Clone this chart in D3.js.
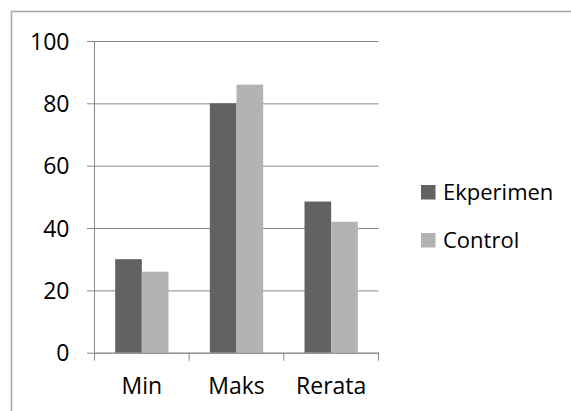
<!DOCTYPE html>
<html><head><meta charset="utf-8">
<script src="https://cdn.jsdelivr.net/npm/d3@7"></script>
<style>
html,body{margin:0;padding:0;background:#fff;}
svg{display:block;}
text{font-family:"Open Sans",sans-serif;fill:#000;}
</style></head>
<body>
<svg id="c" width="571" height="411"></svg>
<script>
const categories = ["Min", "Maks", "Rerata"];
const seriesNames = ["Ekperimen", "Control"];
const ekperimen = [30, 80, 48.5];
const control = [26, 86, 42];
const yTicks = [0, 20, 40, 60, 80, 100];
const colors = ["#626262", "#b3b3b3"];

(function () {
const seriesValues = [ekperimen, control];
const svg = d3.select("#c");

// outer border
svg.append("rect").attr("x", 11.5).attr("y", 11.5).attr("width", 580).attr("height", 420)
  .attr("fill", "none").attr("stroke", "#ababab").attr("stroke-width", 1.6);

const pl = 94.5, pr = 378.5, pt = 41, pb = 352.7;
const y = d3.scaleLinear().domain([0, 100]).range([pb, pt]);
const x0 = d3.scaleBand().domain(categories).range([pl, pr]).padding(0);
const x1 = d3.scaleBand().domain(seriesNames).range([0, x0.bandwidth()]).paddingInner(0).paddingOuter(0.775);

// gridlines + y axis ticks
const yAxis = d3.axisLeft(y).tickValues(yTicks).tickSize(-(pr - pl)).tickSizeOuter(0).tickPadding(0).tickFormat(d3.format("d"));
const gy = svg.append("g").attr("transform", `translate(${pl},0)`).call(yAxis);
gy.select(".domain").remove();
gy.selectAll(".tick line").attr("stroke", "#888").attr("stroke-width", 1).attr("x1", -7.5);
gy.selectAll(".tick text").attr("x", -25).attr("dy", "0.36em").style("font-size", "23px").attr("fill", "#000");

// bars
const groups = svg.append("g").selectAll("g").data(categories).join("g")
  .attr("transform", d => `translate(${x0(d)},0)`);
groups.selectAll("rect").data((c, i) => seriesNames.map((s, j) => ({s, v: seriesValues[j][i], j})))
  .join("rect")
  .attr("x", d => x1(d.s)).attr("width", x1.bandwidth())
  .attr("y", d => y(d.v)).attr("height", d => y(0) - y(d.v))
  .attr("fill", d => colors[d.j]);

// x axis
const xAxis = d3.axisBottom(x0).tickSize(0).tickPadding(0);
const gx = svg.append("g").attr("transform", `translate(0,${pb})`).call(xAxis);
gx.select(".domain").attr("stroke", "#888").attr("stroke-width", 1);
gx.selectAll(".tick text").attr("y", 41.8).attr("dy", 0).style("font-size", "23px").attr("fill", "#000");
// category boundary ticks
const bounds = categories.map(c => x0(c)).concat([pr]);
svg.append("g").selectAll("line").data(bounds).join("line")
  .attr("x1", d => d).attr("x2", d => d).attr("y1", pb).attr("y2", pb + 8)
  .attr("stroke", "#888").attr("stroke-width", 1);
// y axis line
svg.append("line").attr("x1", pl).attr("x2", pl).attr("y1", pt).attr("y2", pb)
  .attr("stroke", "#888").attr("stroke-width", 1);

// legend
const lg = svg.append("g").selectAll("g").data(seriesNames).join("g")
  .attr("transform", (d, i) => `translate(421,${185 + i * 48})`);
lg.append("rect").attr("width", 14.5).attr("height", 14.5).attr("fill", (d, i) => colors[i]);
lg.append("text").attr("x", 22).attr("y", 14.5).style("font-size", "22px").text(d => d);
})();
</script>
</body></html>
